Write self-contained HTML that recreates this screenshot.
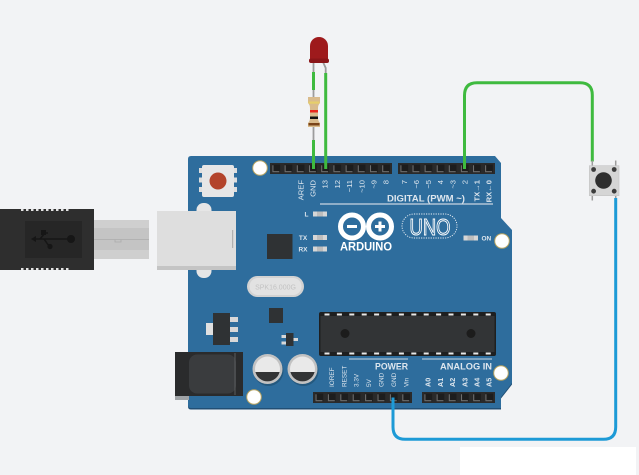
<!DOCTYPE html>
<html><head><meta charset="utf-8"><style>
html,body{margin:0;padding:0;background:#f2f3f5;}
svg{display:block;}
text{font-family:"Liberation Sans",sans-serif;}
</style></head><body>
<svg width="639" height="475" viewBox="0 0 639 475" xmlns="http://www.w3.org/2000/svg">
<defs>
<g id="pin"><rect x="-4" y="-4" width="8" height="8" fill="#1d1d1d"/><path d="M-3.2,-3.2 V3.2 H3.2" stroke="#6e6e6e" stroke-width="1.1" fill="none"/></g>
</defs>
<rect width="639" height="475" fill="#f2f3f5"/>
<rect x="460" y="447" width="176" height="28" fill="#ffffff"/>

<!-- USB cable -->
<rect x="0" y="209" width="94" height="61" fill="#2e2e2e"/>
<g fill="#e4e4e4">
<rect x="21" y="209" width="2.5" height="2"/><rect x="26" y="209" width="2.5" height="2"/><rect x="31" y="209" width="2.5" height="2"/><rect x="36" y="209" width="2.5" height="2"/><rect x="41" y="209" width="2.5" height="2"/><rect x="46" y="209" width="2.5" height="2"/><rect x="51" y="209" width="2.5" height="2"/><rect x="56" y="209" width="2.5" height="2"/><rect x="61" y="209" width="2.5" height="2"/><rect x="66" y="209" width="2.5" height="2"/>
<rect x="21" y="268" width="2.5" height="2"/><rect x="26" y="268" width="2.5" height="2"/><rect x="31" y="268" width="2.5" height="2"/><rect x="36" y="268" width="2.5" height="2"/><rect x="41" y="268" width="2.5" height="2"/><rect x="46" y="268" width="2.5" height="2"/><rect x="51" y="268" width="2.5" height="2"/><rect x="56" y="268" width="2.5" height="2"/><rect x="61" y="268" width="2.5" height="2"/><rect x="66" y="268" width="2.5" height="2"/>
</g>
<rect x="25" y="221" width="57" height="37" fill="#262626"/>
<g fill="#161616" stroke="#161616">
<line x1="35" y1="239" x2="70" y2="239" stroke-width="1.6"/>
<polygon points="31,239 36,236 36,242" stroke="none"/>
<circle cx="71" cy="239" r="4" stroke="none"/>
<path d="M40,239 L45,233 H48" fill="none" stroke-width="1.5"/>
<rect x="41" y="230" width="5" height="5" stroke="none"/>
<path d="M44,239 L49,246" fill="none" stroke-width="1.5"/>
<circle cx="50" cy="246.5" r="2.6" stroke="none"/>
</g>
<rect x="94" y="220" width="55" height="39" fill="#cfcfcf"/>
<rect x="94" y="228" width="55" height="22" fill="#c4c4c4"/>
<line x1="94" y1="239.5" x2="149" y2="239.5" stroke="#acacac" stroke-width="0.8"/>
<path d="M115,239.5 V242 H121 V239.5" fill="none" stroke="#acacac" stroke-width="0.8"/>

<!-- Board -->
<path d="M191,157.5 H495 L501,164.5 V219.5 L512,231.5 V384.5 L501,398.5 V409.5 H191 Q188,409.5 188,406.5 V160.5 Q188,157.5 191,157.5 Z" fill="#214f75"/>
<path d="M191,156 H495 L501,163 V218 L512,230 V383 L501,397 V408 H191 Q188,408 188,405 V159 Q188,156 191,156 Z" fill="#2e6d9d"/>

<!-- mounting holes -->
<g fill="#ffffff" stroke="#b8a460" stroke-width="1">
<circle cx="260" cy="168" r="7.3"/>
<circle cx="502" cy="241" r="7.3"/>
<circle cx="501" cy="373" r="7.3"/>
<circle cx="254" cy="397" r="7.3"/>
</g>

<!-- reset button -->
<g fill="#dedede">
<rect x="199" y="168" width="4" height="5"/><rect x="199" y="177.5" width="4" height="5"/><rect x="199" y="187" width="4" height="5"/>
<rect x="233" y="168" width="4" height="5"/><rect x="233" y="177.5" width="4" height="5"/><rect x="233" y="187" width="4" height="5"/>
</g>
<rect x="202" y="165" width="32" height="32" rx="2" fill="#e6e6e6"/>
<circle cx="218" cy="181" r="8.5" fill="#b3432a"/>

<!-- USB port -->
<rect x="196.5" y="203" width="15" height="75" rx="7" fill="#e6e6e6"/>
<rect x="157" y="211" width="79" height="59" fill="#dedede"/>
<rect x="157" y="266" width="79" height="4" fill="#c4c4c4"/>
<rect x="232" y="230" width="1.2" height="18" fill="#b0b0b0"/>

<!-- headers top -->
<rect x="270" y="163" width="122" height="11" fill="#2a2a2a"/>
<rect x="398" y="163" width="97" height="11" fill="#2a2a2a"/>
<g>
<use href="#pin" x="276.1" y="168.5"/><use href="#pin" x="288.3" y="168.5"/><use href="#pin" x="300.5" y="168.5"/><use href="#pin" x="312.7" y="168.5"/><use href="#pin" x="324.9" y="168.5"/><use href="#pin" x="337.1" y="168.5"/><use href="#pin" x="349.3" y="168.5"/><use href="#pin" x="361.5" y="168.5"/><use href="#pin" x="373.7" y="168.5"/><use href="#pin" x="385.9" y="168.5"/>
<use href="#pin" x="404.1" y="168.5"/><use href="#pin" x="416.2" y="168.5"/><use href="#pin" x="428.3" y="168.5"/><use href="#pin" x="440.4" y="168.5"/><use href="#pin" x="452.5" y="168.5"/><use href="#pin" x="464.6" y="168.5"/><use href="#pin" x="476.7" y="168.5"/><use href="#pin" x="488.8" y="168.5"/>
</g>
<g fill="#dde6ee" font-size="7.6" text-anchor="end">
<text transform="translate(300.5,180) rotate(-90)" dy="0.36em">AREF</text>
<text transform="translate(312.7,180) rotate(-90)" dy="0.36em">GND</text>
<text transform="translate(324.9,180) rotate(-90)" dy="0.36em">13</text>
<text transform="translate(337.1,180) rotate(-90)" dy="0.36em">12</text>
<text transform="translate(349.3,180) rotate(-90)" dy="0.36em">~11</text>
<text transform="translate(361.5,180) rotate(-90)" dy="0.36em">~10</text>
<text transform="translate(373.7,180) rotate(-90)" dy="0.36em">~9</text>
<text transform="translate(385.9,180) rotate(-90)" dy="0.36em">8</text>
<text transform="translate(404.1,180) rotate(-90)" dy="0.36em">7</text>
<text transform="translate(416.2,180) rotate(-90)" dy="0.36em">~6</text>
<text transform="translate(428.3,180) rotate(-90)" dy="0.36em">~5</text>
<text transform="translate(440.4,180) rotate(-90)" dy="0.36em">4</text>
<text transform="translate(452.5,180) rotate(-90)" dy="0.36em">~3</text>
<text transform="translate(464.6,180) rotate(-90)" dy="0.36em">2</text>
<text transform="translate(476.7,180) rotate(-90)" dy="0.36em" font-weight="bold">TX→1</text>
<text transform="translate(488.8,180) rotate(-90)" dy="0.36em" font-weight="bold">RX←0</text>
</g>
<text x="387" y="201.5" fill="#dde6ee" font-size="9.5" font-weight="bold" textLength="78" lengthAdjust="spacingAndGlyphs">DIGITAL (PWM ~)</text>
<line x1="320" y1="204" x2="493" y2="204" stroke="#c9d6e2" stroke-width="1.2"/>

<!-- LEDs -->
<g font-size="6.5" font-weight="bold" fill="#dde6ee">
<text x="306.5" y="216.5" text-anchor="middle">L</text>
<text x="303" y="240" text-anchor="middle">TX</text>
<text x="303" y="251.5" text-anchor="middle">RX</text>
<text x="481.5" y="240.5">ON</text>
</g>
<g fill="#d6d6d6">
<rect x="313" y="211.5" width="14" height="5"/>
<rect x="313" y="235" width="14" height="5"/>
<rect x="313" y="246.5" width="14" height="5"/>
<rect x="463.5" y="235.5" width="14.5" height="5"/>
</g>
<g fill="#bdbdbd">
<rect x="317" y="211.5" width="6" height="5"/>
<rect x="317" y="235" width="6" height="5"/>
<rect x="317" y="246.5" width="6" height="5"/>
<rect x="467.5" y="235.5" width="6.5" height="5"/>
</g>

<!-- Arduino logo -->
<g stroke="#ffffff" stroke-width="5" fill="none">
<circle cx="352" cy="226.5" r="11.5"/>
<circle cx="380" cy="226.5" r="11.5"/>
</g>
<rect x="347" y="225" width="10" height="3" fill="#fff"/>
<rect x="375" y="225" width="10" height="3" fill="#fff"/>
<rect x="378.5" y="221.5" width="3" height="10" fill="#fff"/>
<text x="340" y="250.5" fill="#ffffff" font-size="11.5" font-weight="bold" textLength="52" lengthAdjust="spacingAndGlyphs">ARDUINO</text>
<rect x="402" y="214" width="55" height="24" rx="12" fill="none" stroke="#e8eef4" stroke-width="0.9" stroke-dasharray="1.2,1.2"/>
<text x="409.5" y="235" fill="none" stroke="#ffffff" stroke-width="1" font-size="23" textLength="41" lengthAdjust="spacingAndGlyphs">UNO</text>

<!-- chip square -->
<rect x="267" y="234" width="25.5" height="25" fill="#2f3234"/>

<!-- crystal -->
<rect x="247" y="276" width="57" height="21" rx="10.5" fill="#d2d2d2"/>
<rect x="249.5" y="278" width="52" height="17" rx="8.5" fill="#e2e2e2"/>
<text x="275.5" y="289.5" fill="#c2c2c2" font-size="7" text-anchor="middle" font-family="Liberation Serif, serif">SPK16.000G</text>

<!-- regulator -->
<rect x="206" y="323" width="8" height="12" fill="#e0e0e0"/>
<rect x="213" y="313" width="17" height="32" fill="#2f3234"/>
<g fill="#d8d8d8">
<rect x="230" y="317" width="8" height="5"/><rect x="230" y="327" width="8" height="5"/><rect x="230" y="337" width="8" height="5"/>
</g>
<rect x="269" y="308" width="14" height="15" fill="#2f3234"/>
<!-- transistor -->
<g fill="#d8d8d8">
<rect x="281.5" y="335" width="5" height="3"/><rect x="281.5" y="341.5" width="5" height="3"/><rect x="293" y="338" width="5" height="3"/>
</g>
<rect x="286" y="333" width="7.5" height="13" fill="#2f3234"/>

<!-- ATmega -->
<rect x="319" y="312" width="177" height="44" rx="2" fill="#1e1f20"/>
<rect x="320.5" y="316" width="174" height="36" fill="#323436"/>
<g fill="#e8e8e8">
<rect x="324.5" y="313.5" width="5" height="2"/><rect x="336.9" y="313.5" width="5" height="2"/><rect x="349.3" y="313.5" width="5" height="2"/><rect x="361.7" y="313.5" width="5" height="2"/><rect x="374.1" y="313.5" width="5" height="2"/><rect x="386.5" y="313.5" width="5" height="2"/><rect x="398.9" y="313.5" width="5" height="2"/><rect x="411.3" y="313.5" width="5" height="2"/><rect x="423.7" y="313.5" width="5" height="2"/><rect x="436.1" y="313.5" width="5" height="2"/><rect x="448.5" y="313.5" width="5" height="2"/><rect x="460.9" y="313.5" width="5" height="2"/><rect x="473.3" y="313.5" width="5" height="2"/><rect x="485.7" y="313.5" width="5" height="2"/>
<rect x="324.5" y="352.5" width="5" height="2"/><rect x="336.9" y="352.5" width="5" height="2"/><rect x="349.3" y="352.5" width="5" height="2"/><rect x="361.7" y="352.5" width="5" height="2"/><rect x="374.1" y="352.5" width="5" height="2"/><rect x="386.5" y="352.5" width="5" height="2"/><rect x="398.9" y="352.5" width="5" height="2"/><rect x="411.3" y="352.5" width="5" height="2"/><rect x="423.7" y="352.5" width="5" height="2"/><rect x="436.1" y="352.5" width="5" height="2"/><rect x="448.5" y="352.5" width="5" height="2"/><rect x="460.9" y="352.5" width="5" height="2"/><rect x="473.3" y="352.5" width="5" height="2"/><rect x="485.7" y="352.5" width="5" height="2"/>
</g>
<circle cx="345" cy="333.5" r="4.5" fill="#1c1c1c"/>
<circle cx="471" cy="333.5" r="4.5" fill="#1c1c1c"/>

<!-- capacitors -->
<circle cx="268.5" cy="371" r="15" fill="#24597f"/>
<circle cx="303.5" cy="371" r="15" fill="#24597f"/>
<circle cx="267.5" cy="369" r="15" fill="#c2c2c2"/>
<circle cx="267.5" cy="369" r="12.5" fill="#e9e9e9"/>
<path d="M255.4,372 A12.5 12.5 0 0 0 279.6,372 Z" fill="#333435"/>
<circle cx="302.5" cy="369" r="15" fill="#c2c2c2"/>
<circle cx="302.5" cy="369" r="12.5" fill="#e9e9e9"/>
<path d="M290.4,372 A12.5 12.5 0 0 0 314.6,372 Z" fill="#333435"/>

<!-- power jack -->
<rect x="175" y="352" width="68" height="44" fill="#2a2b2c"/>
<rect x="189" y="354.5" width="47" height="39" rx="8" fill="#3a3c3e"/>
<rect x="234.5" y="353" width="1" height="42" fill="#5a5c5e"/>
<rect x="175" y="396" width="14" height="4" fill="#9fa3a6"/>

<!-- power/analog labels -->
<text x="375" y="369.5" fill="#dde6ee" font-size="8.8" font-weight="bold" textLength="33" lengthAdjust="spacingAndGlyphs">POWER</text>
<text x="440" y="369.5" fill="#dde6ee" font-size="8.8" font-weight="bold" textLength="52" lengthAdjust="spacingAndGlyphs">ANALOG IN</text>
<line x1="349" y1="359" x2="408" y2="359" stroke="#c9d6e2" stroke-width="1.1"/>
<line x1="422" y1="359" x2="492" y2="359" stroke="#c9d6e2" stroke-width="1.1"/>
<g fill="#dde6ee" font-size="6.4">
<text transform="translate(331.6,387) rotate(-90)" dy="0.36em">IOREF</text>
<text transform="translate(344,387) rotate(-90)" dy="0.36em">RESET</text>
<text transform="translate(356.4,387) rotate(-90)" dy="0.36em">3.3V</text>
<text transform="translate(368.8,387) rotate(-90)" dy="0.36em">5V</text>
<text transform="translate(381.2,387) rotate(-90)" dy="0.36em">GND</text>
<text transform="translate(393.6,387) rotate(-90)" dy="0.36em">GND</text>
<text transform="translate(406,387) rotate(-90)" dy="0.36em">Vin</text>
</g>
<g fill="#dde6ee" font-size="7.2" font-weight="bold">
<text transform="translate(428.1,387) rotate(-90)" dy="0.36em">A0</text>
<text transform="translate(440.3,387) rotate(-90)" dy="0.36em">A1</text>
<text transform="translate(452.5,387) rotate(-90)" dy="0.36em">A2</text>
<text transform="translate(464.7,387) rotate(-90)" dy="0.36em">A3</text>
<text transform="translate(476.9,387) rotate(-90)" dy="0.36em">A4</text>
<text transform="translate(489.1,387) rotate(-90)" dy="0.36em">A5</text>
</g>
<rect x="313" y="392" width="99" height="11" fill="#2a2a2a"/>
<rect x="422" y="392" width="73" height="11" fill="#2a2a2a"/>
<g>
<use href="#pin" x="319.2" y="397.5"/><use href="#pin" x="331.6" y="397.5"/><use href="#pin" x="344" y="397.5"/><use href="#pin" x="356.4" y="397.5"/><use href="#pin" x="368.8" y="397.5"/><use href="#pin" x="381.2" y="397.5"/><use href="#pin" x="393.6" y="397.5"/><use href="#pin" x="406" y="397.5"/>
<use href="#pin" x="428.1" y="397.5"/><use href="#pin" x="440.3" y="397.5"/><use href="#pin" x="452.5" y="397.5"/><use href="#pin" x="464.7" y="397.5"/><use href="#pin" x="476.9" y="397.5"/><use href="#pin" x="489.1" y="397.5"/>
</g>

<!-- LED + resistor -->
<g stroke="#9c9c9c" stroke-width="1.8" fill="none">
<line x1="313.5" y1="62" x2="313.5" y2="73"/>
<path d="M323,62 L325.7,68 V74"/>
<line x1="313.5" y1="89" x2="313.5" y2="98"/>
<line x1="313.5" y1="126" x2="313.5" y2="141"/>
</g>
<path d="M310,62 V46 A9 9 0 0 1 328,46 V62 Z" fill="#9e1a1c"/>
<rect x="309" y="58.5" width="20" height="4.5" rx="2" fill="#8a1518"/>
<g stroke="#3fba3f" stroke-width="3" fill="none" stroke-linecap="butt">
<line x1="313.5" y1="72" x2="313.5" y2="90"/>
<line x1="313.5" y1="140" x2="313.5" y2="169"/>
<line x1="325.7" y1="73" x2="325.7" y2="169"/>
<path d="M464.5,169 V95.5 Q464.5,82.7 477,82.7 H580 Q592.3,82.7 592.3,95 V161.5"/>
</g>
<path d="M308,97 H320 V103 Q318,105 318,108 V118 Q318,121 320,123 V127 H308 V123 Q310,121 310,118 V108 Q310,105 308,103 Z" fill="#d9bb8c"/>
<rect x="308.5" y="101.5" width="11" height="2.2" fill="#e6cf6a"/>
<rect x="310" y="110" width="8" height="2.5" fill="#e8261c"/>
<rect x="310" y="116.5" width="8" height="2.5" fill="#111111"/>
<rect x="308.5" y="123" width="11" height="2.5" fill="#7a4419"/>

<!-- push button -->
<g stroke="#9c9c9c" stroke-width="1.5">
<line x1="592.3" y1="160.5" x2="592.3" y2="166"/>
<line x1="615.7" y1="160.5" x2="615.7" y2="166"/>
<line x1="592.3" y1="195" x2="592.3" y2="200.5"/>
<line x1="615.7" y1="195" x2="615.7" y2="200.5"/>
</g>
<rect x="589.3" y="165.7" width="29.7" height="30" fill="#d5d5d5" stroke="#c4c4c4" stroke-width="0.6"/>
<circle cx="603.5" cy="180.5" r="8.3" fill="#2e2e2e"/>
<g fill="#3c3c3c">
<circle cx="593.6" cy="169.5" r="2.4"/><circle cx="614.2" cy="169.5" r="2.4"/>
<circle cx="593.6" cy="191.2" r="2.4"/><circle cx="614.2" cy="191.2" r="2.4"/>
</g>

<!-- blue wire -->
<path d="M393,397.5 V427 Q393,439.3 405.3,439.3 H603.4 Q615.7,439.3 615.7,427 V198" stroke="#1d9ad6" stroke-width="3" fill="none"/>
</svg>
</body></html>
